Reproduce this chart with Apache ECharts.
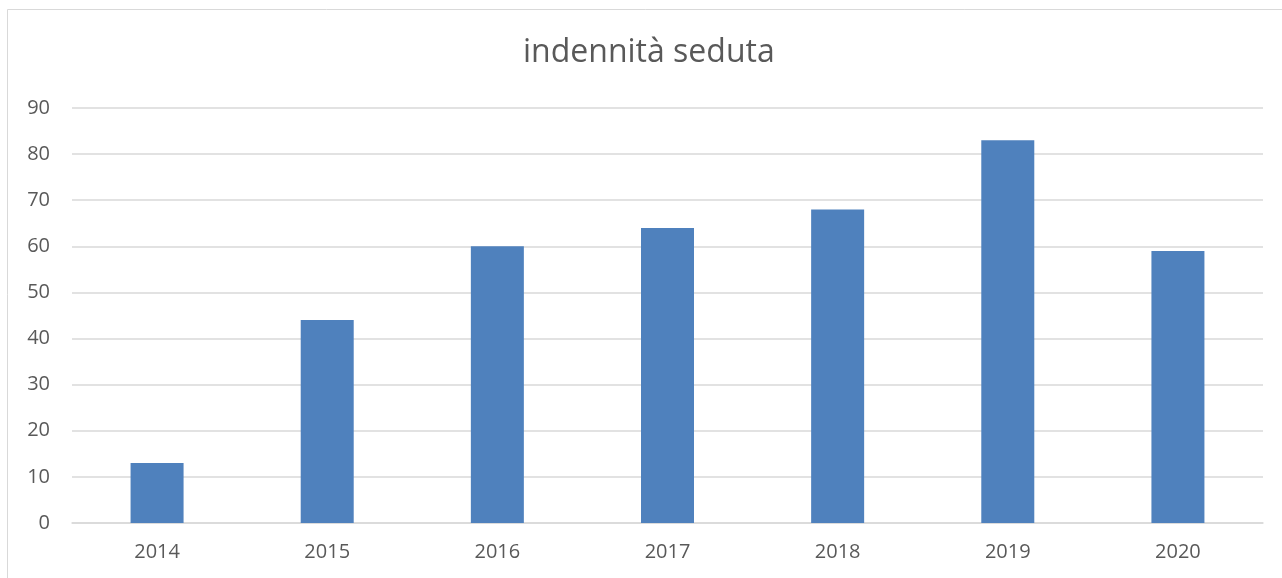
<!DOCTYPE html>
<html><head><meta charset="utf-8">
<script src="https://cdn.jsdelivr.net/npm/echarts@6/dist/echarts.min.js"></script>
<style>html,body{margin:0;padding:0;background:#fff}#c{width:1282px;height:578px}</style>
</head><body><div id="c"></div>
<script>
const titleText = 'indennità seduta';
const categories = ['2014','2015','2016','2017','2018','2019','2020'];
const values = [13, 44, 60, 64, 68, 83, 59];
const yTicks = {min: 0, max: 90, interval: 10};

const chart = echarts.init(document.getElementById('c'), null, {renderer: 'canvas'});
chart.setOption({
  animation: false,
  backgroundColor: '#fff',
  title: {text: titleText, left: 518, top: 32, textStyle: {fontFamily: 'Open Sans', fontSize: 32, fontWeight: 'normal', color: '#595959'}},
  graphic: [{type: 'rect', shape: {x: 7.5, y: 9.5, width: 1400, height: 700}, style: {fill: 'none', stroke: '#d9d9d9', lineWidth: 1}, silent: true}],
  grid: {left: 72, right: 19, top: 108, bottom: 55, containLabel: false},
  xAxis: {type: 'category', data: categories,
    axisLine: {show: true, lineStyle: {color: '#d9d9d9', width: 1.5}}, axisTick: {show: false},
    axisLabel: {color: '#595959', fontSize: 20, fontFamily: 'Open Sans', margin: 19}},
  yAxis: {type: 'value', min: yTicks.min, max: yTicks.max, interval: yTicks.interval,
    axisLine: {show: false}, axisTick: {show: false},
    splitLine: {lineStyle: {color: '#d9d9d9', width: 1.5}},
    axisLabel: {color: '#595959', fontSize: 20, fontFamily: 'Open Sans', margin: 22}},
  series: [{type: 'bar', data: values, barWidth: 53, itemStyle: {color: '#4f81bd'}}]
});
</script></body></html>
